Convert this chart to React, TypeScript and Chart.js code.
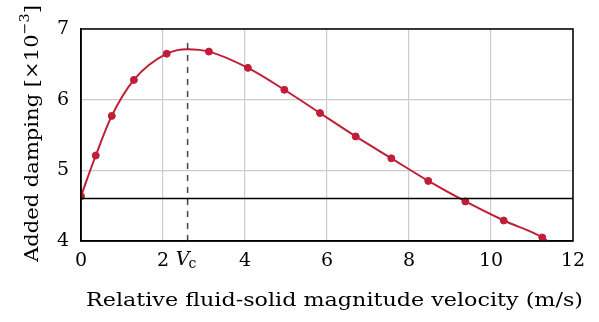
import React, { useEffect, useRef } from "react";
import { Chart, registerables } from "chart.js";
Chart.register(...registerables);

const velocity = [0, 0.36, 0.75, 1.29, 2.09, 3.12, 4.07, 4.96, 5.83, 6.7, 7.57, 8.47, 9.375, 10.31, 11.25];
const damping = [4.635, 5.21, 5.77, 6.28, 6.65, 6.68, 6.45, 6.14, 5.81, 5.48, 5.17, 4.85, 4.56, 4.29, 4.05];
const curveExtraX = [2.6, 11.7];
const curveExtraY = [6.715, 3.85];
const criticalVelocity = 2.6;
const dashTop = 6.83;
const thresholdDamping = 4.6;
const xTicks = [0, 2, 4, 6, 8, 10, 12];
const yTicks = [4, 5, 6, 7];

const RED = "rgb(192,30,56)";
const FONT = "'DejaVu Serif', 'Liberation Serif', serif";

export default function App() {
  const ref = useRef<HTMLCanvasElement>(null);
  useEffect(() => {
    const pts = velocity.map((x, i) => ({ x, y: damping[i] }));
    const curve = [...pts, ...curveExtraX.map((x, i) => ({ x, y: curveExtraY[i] }))].sort((a, b) => a.x - b.x);
    const labelsPlugin = {
      id: "labels",
      afterDraw(chart: any) {
        const ctx = chart.ctx;
        const xs = chart.scales.x;
        ctx.save();
        ctx.fillStyle = "#000";
        // Vc tick label
        const px = xs.getPixelForValue(criticalVelocity);
        ctx.textBaseline = "alphabetic";
        ctx.font = `italic 19px ${FONT}`;
        ctx.textAlign = "center";
        ctx.fillText("V", px - 5, 265);
        ctx.font = `14px ${FONT}`;
        ctx.textAlign = "left";
        ctx.fillText("c", px + 1, 268);
        // x title, fitted to target width
        const xt = "Relative fluid-solid magnitude velocity (m/s)";
        ctx.font = `19px ${FONT}`;
        const xw = ctx.measureText(xt).width;
        const xTarget = 497;
        ctx.save();
        ctx.translate(86, 306);
        ctx.scale(xTarget / xw, 1);
        ctx.textAlign = "left";
        ctx.fillText(xt, 0, 0);
        ctx.restore();
        // y title
        ctx.save();
        ctx.translate(38, 262);
        ctx.rotate(-Math.PI / 2);
        const main = "Added damping [×10";
        const sup = "−3";
        const end = "]";
        ctx.font = `19px ${FONT}`;
        const w1 = ctx.measureText(main).width;
        const w3 = ctx.measureText(end).width;
        ctx.font = `13px ${FONT}`;
        const w2 = ctx.measureText(sup).width;
        const total = w1 + w2 + w3;
        ctx.scale(257 / total, 1);
        ctx.textAlign = "left";
        ctx.font = `19px ${FONT}`;
        ctx.fillText(main, 0, 0);
        ctx.font = `13px ${FONT}`;
        ctx.fillText(sup, w1, -9);
        ctx.font = `19px ${FONT}`;
        ctx.fillText(end, w1 + w2, 0);
        ctx.restore();
        ctx.restore();
      },
    };
    const chart = new Chart(ref.current!, {
      type: "scatter",
      data: {
        datasets: [
          {
            data: [{ x: 0, y: thresholdDamping }, { x: 12, y: thresholdDamping }],
            showLine: true,
            borderColor: "#000",
            borderWidth: 1.5,
            pointRadius: 0,
          },
          {
            data: [{ x: criticalVelocity, y: 4 }, { x: criticalVelocity, y: dashTop }],
            showLine: true,
            borderColor: "#444",
            borderWidth: 1.5,
            borderDash: [6, 6],
            pointRadius: 0,
          },
          {
            data: curve,
            showLine: true,
            borderColor: RED,
            borderWidth: 2,
            pointRadius: 0,
            cubicInterpolationMode: "monotone",
          },
          {
            data: pts,
            showLine: false,
            backgroundColor: RED,
            borderColor: RED,
            pointRadius: 3.5,
          },
        ],
      },
      options: {
        animation: false,
        responsive: false,
        events: [],
        layout: { padding: { top: 29, right: 26, left: 0, bottom: 0 } },
        plugins: { legend: { display: false }, tooltip: { enabled: false } },
        scales: {
          x: {
            type: "linear",
            min: 0,
            max: 12,
            afterBuildTicks: (s: any) => { s.ticks = xTicks.map((v) => ({ value: v })); },
            afterFit: (s: any) => { s.height = 81; },
            grid: { color: "#cccccc", lineWidth: 1.2, drawTicks: false },
            border: { color: "#000", width: 1.5 },
            ticks: { color: "#000", font: { family: FONT, size: 19 }, padding: 9, maxRotation: 0 },
          },
          y: {
            min: 4,
            max: 7,
            afterBuildTicks: (s: any) => { s.ticks = yTicks.map((v) => ({ value: v })); },
            afterFit: (s: any) => { s.width = 81; },
            grid: { color: "#cccccc", lineWidth: 1.2, drawTicks: false },
            border: { color: "#000", width: 1.5 },
            ticks: { color: "#000", font: { family: FONT, size: 19 }, padding: 12 },
          },
        },
      },
      plugins: [
        labelsPlugin,
        {
          id: "frame",
          afterDatasetsDraw(chart: any) {
            const { ctx, chartArea: a } = chart;
            ctx.save();
            ctx.strokeStyle = "#000";
            ctx.lineWidth = 1.5;
            ctx.strokeRect(a.left, a.top, a.right - a.left, a.bottom - a.top);
            ctx.restore();
          },
        },
      ],
    } as any);
    return () => chart.destroy();
  }, []);
  return (
    <div style={{ position: "fixed", left: 0, top: 0, width: 599, height: 322, background: "#fff" }}>
      <canvas ref={ref} width={599} height={322} />
    </div>
  );
}
